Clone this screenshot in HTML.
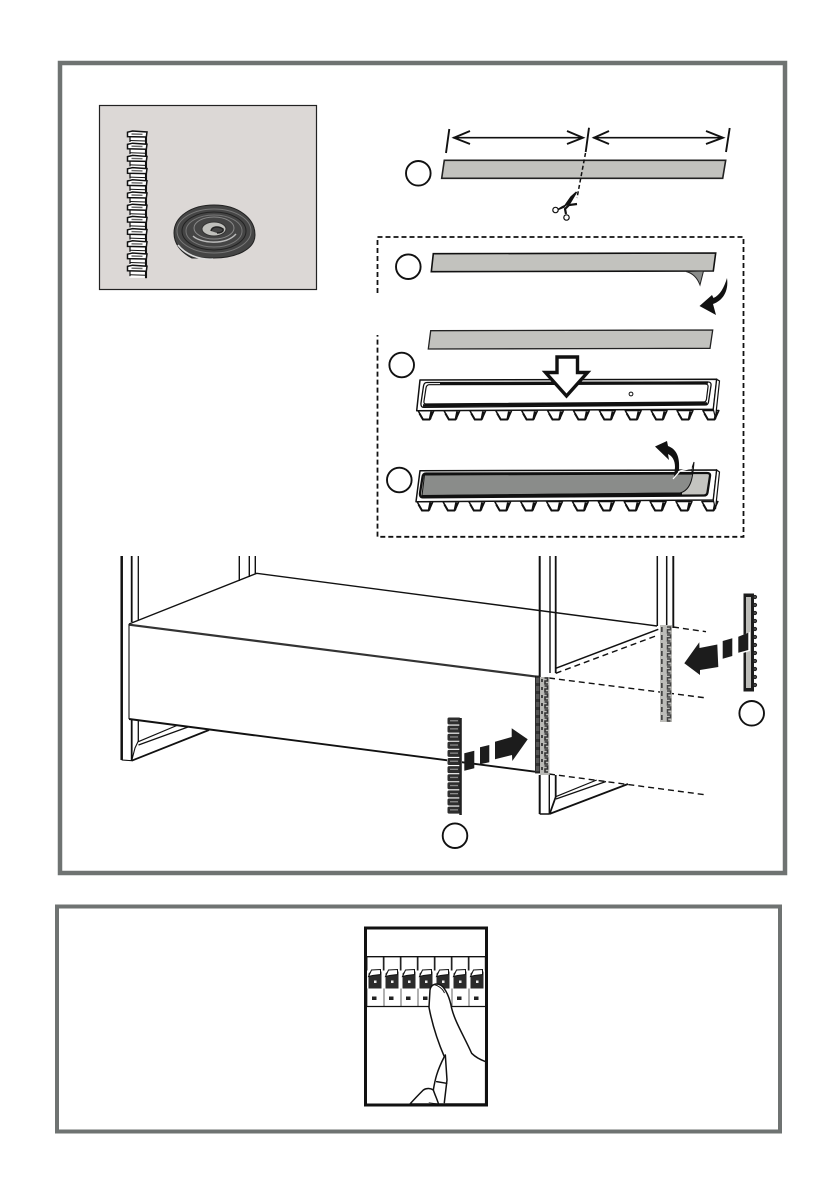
<!DOCTYPE html>
<html><head><meta charset="utf-8"><style>html,body{margin:0;padding:0;background:#fff}svg{display:block}</style></head>
<body>
<svg xmlns="http://www.w3.org/2000/svg" width="840" height="1190" viewBox="0 0 840 1190">
<defs>
<g id="tooth"><path d="M0 0 L5 9 L12 9 L16 0 Z" fill="#fff" stroke="#111" stroke-width="1.5" stroke-linejoin="round"/><path d="M12 8.5 L13.5 1" stroke="#111" stroke-width="2.4"/><path d="M12 9 L5 9 L1.5 3" fill="none" stroke="#111" stroke-width="2"/></g>
<g id="teeth"><use href="#tooth"/><use href="#tooth" x="25.9"/><use href="#tooth" x="51.8"/><use href="#tooth" x="77.7"/><use href="#tooth" x="103.6"/><use href="#tooth" x="129.5"/><use href="#tooth" x="155.4"/><use href="#tooth" x="181.3"/><use href="#tooth" x="207.2"/><use href="#tooth" x="233.1"/><use href="#tooth" x="259"/><use href="#tooth" x="284.9"/></g>
<g id="seg"><path d="M2 5 H18.5 V12.5 H2 Z" fill="#fff"/><path d="M18.5 1 V13" stroke="#111" stroke-width="2.1"/><path d="M2.5 5 V11" stroke="#111" stroke-width="1.2"/><path d="M2.5 9.5 L18 10" stroke="#111" stroke-width="1"/><path d="M0 1.2 L5 0 L19.5 1 L18.8 6 L0 5.6 Z" fill="#fff" stroke="#111" stroke-width="1.5"/><path d="M4 3 L15 3.3" stroke="#666" stroke-width="1.4"/></g>
<g id="dk"><rect x="0" y="0" width="13" height="7" rx="1.5" fill="#2e2e2e"/><rect x="2.5" y="2.6" width="8" height="1.3" fill="#8a8a8a"/></g>
<g id="gy"><rect x="1" y="0" width="1.7" height="5" fill="#444"/><path d="M7 0 h3.5 v2.8 h-3 v3.2 h3" fill="none" stroke="#444" stroke-width="1.5"/></g>
<g id="gz"><rect x="-4" y="0" width="3.5" height="5" fill="#555"/><rect x="1" y="1" width="2" height="3" fill="#444"/><path d="M4.5 0 h3 v3 h-2.5 v3 h3" fill="none" stroke="#333" stroke-width="1.6"/></g>
<g id="sw"><rect x="0" y="0" width="17" height="50" fill="#fff"/><path d="M.5 0 V14 M16.8 0 V14" stroke="#222" stroke-width="1"/><path d="M2 17 L4 15 L15 15 L15 32 L2 32 Z" fill="#2b2b2b"/><path d="M2 20 L5 13.5 L14 13 L14 18 L6 19 Z" fill="#fff" stroke="#111" stroke-width="1"/><rect x="7.5" y="24" width="2.5" height="2.5" fill="#eee"/><rect x="5.5" y="40" width="4.5" height="3.5" fill="#222"/><path d="M.5 32 V50" stroke="#222" stroke-width=".7"/></g>
</defs>

<rect x="60" y="63" width="725" height="810" fill="none" stroke="#6f7372" stroke-width="4.5"/>
<rect x="57" y="906.5" width="723" height="225" fill="none" stroke="#6f7372" stroke-width="4"/>

<!-- parts box -->
<rect x="99.5" y="105.5" width="217" height="184" fill="#dcd8d6" stroke="#222" stroke-width="1.2"/>
<g>
<use href="#seg" x="127.5" y="131"/><use href="#seg" x="127.5" y="143.2"/><use href="#seg" x="127.5" y="155.4"/><use href="#seg" x="127.5" y="167.6"/><use href="#seg" x="127.5" y="179.8"/><use href="#seg" x="127.5" y="192"/><use href="#seg" x="127.5" y="204.2"/><use href="#seg" x="127.5" y="216.4"/><use href="#seg" x="127.5" y="228.6"/><use href="#seg" x="127.5" y="240.8"/><use href="#seg" x="127.5" y="253"/><use href="#seg" x="127.5" y="265.2"/>
</g>
<g>
<path d="M174 233 C174 216 192 205 214 205 C238 205 255 218 255 235 C255 250 235 258 214 258 L192 258 C180 252 174 243 174 233Z" fill="#454545" stroke="#222"/>
<path d="M178 245 C186 255 200 260 213 259" fill="none" stroke="#ddd" stroke-width="1.6"/>
<ellipse cx="214" cy="231" rx="37" ry="22" fill="none" stroke="#777" stroke-width="1"/>
<ellipse cx="214" cy="231" rx="32" ry="19" fill="none" stroke="#222" stroke-width="1"/>
<ellipse cx="214" cy="231" rx="28" ry="16" fill="none" stroke="#777" stroke-width="1"/>
<path d="M193 236 C200 243 225 246 236 234" fill="none" stroke="#bbb" stroke-width="1.4"/>
<ellipse cx="214" cy="228" rx="20" ry="11" fill="none" stroke="#888" stroke-width="1"/>
<ellipse cx="214" cy="229" rx="12" ry="7" fill="#c0c0bc" stroke="#333"/>
<path d="M211 231 C212 226 219 226 223 229 C224 232 220 233 217 233" fill="#444" stroke="#222" stroke-width="1.5"/>
</g>

<!-- step 1 -->
<g stroke="#111" fill="none" stroke-width="1.9">
<path d="M449.3 129 L446 153 M589 127.7 L585.7 152 M729.7 128 L726 152"/>
<path d="M453 137.7 H583 M593 137.7 H723" stroke-width="1.7"/>
<path d="M470 131 L454 137.7 L470 144 M567 131 L583 137.7 L567 144 M609 131 L594 137.7 L609 144 M706 131 L723 137.7 L706 144"/>
</g>
<path d="M444.3 160.3 L725.7 160.3 L722.7 178.3 L441.7 178.3 Z" fill="#c2c2be" stroke="#222" stroke-width="1.6"/>
<path d="M585.5 153 L577 198" stroke="#111" stroke-width="1.5" stroke-dasharray="4 2.5" fill="none"/>
<circle cx="418.3" cy="173.3" r="12.3" fill="#fff" stroke="#111" stroke-width="1.9"/>
<g stroke="#111" fill="none">
<path d="M576.5 192 L570 203 L562 207 L558 209.5 L564 207 L571 197 Z" fill="#111" stroke-width="1.5"/>
<path d="M577 204 L569 205 L565 209 L566 214" stroke-width="2.2"/>
<circle cx="555.5" cy="210" r="2.7" fill="#fff" stroke-width="1.2"/>
<circle cx="566.5" cy="217.5" r="2.7" fill="#fff" stroke-width="1.2"/>
</g>

<!-- dashed box -->
<path d="M377.5 293 V237 H743.5 V536.8 H377.5 V335" fill="none" stroke="#111" stroke-width="1.8" stroke-dasharray="5 3"/>

<!-- step 2 -->
<path d="M433.3 253.7 L715.7 253 L713.3 271 L431.3 271.7 Z" fill="#c2c2be" stroke="#111" stroke-width="1.6"/>
<path d="M686 271.5 L703.5 271 L700 285 C697 277 692 273 686 271.5 Z" fill="#8b8d8b" stroke="#222" stroke-width="1"/>
<circle cx="408.3" cy="266.7" r="12.3" fill="#fff" stroke="#111" stroke-width="1.9"/>
<path d="M727 278 C729 292 722 301 713 304 L716 315 L699.5 306 L712 295 L713.5 298 C720 295 724 288 727 278 Z" fill="#111"/>

<!-- step 3 -->
<path d="M430.7 330.7 L712.7 330 L710 348.3 L428.3 349 Z" fill="#c2c2be" stroke="#222" stroke-width="1.3"/>
<circle cx="401.7" cy="365" r="12.3" fill="#fff" stroke="#111" stroke-width="1.9"/>
<use href="#teeth" x="418" y="410.5"/>
<path d="M420 380 L716.7 379.3 L713.3 409.3 L416.7 410.7 Z" fill="#fff" stroke="#111" stroke-width="1.5" stroke-linejoin="round"/>
<path d="M716.7 379.3 L719.5 381 L715.5 418 L713.3 409.3 Z" fill="#fff" stroke="#111" stroke-width="1.2"/>
<path d="M427 382.5 Q424 382.5 423.5 386 L421 403 Q420.5 407.5 424 407.3 L705 405 Q708 405 708.5 402 L711 385.5 Q711.5 382 708 382 Z" fill="#fff" stroke="#111" stroke-width="1.3"/>
<path d="M429 384.7 Q426.5 385 426 388 L424 401 Q423.5 404 426 404 L704 402 Q706 402 706.5 399 L708 387 Q708.5 384 705 384 Z" fill="#fff" stroke="#111" stroke-width="1.2"/>
<path d="M423 405.5 L707 403.5 M440 383.4 L708 382.6" stroke="#111" stroke-width="2.4" fill="none"/>
<circle cx="631" cy="394" r="1.9" fill="#fff" stroke="#111"/>
<path d="M557 357 H577.5 V372.5 H587.5 L566.5 396 L545.5 372.5 H557 Z" fill="#fff" stroke="#111" stroke-width="3.4"/>

<!-- step 4 -->
<circle cx="399.3" cy="480" r="12.3" fill="#fff" stroke="#111" stroke-width="1.9"/>
<use href="#teeth" x="417" y="501.5"/>
<path d="M420 470.7 L716.7 470 L713.3 500 L416 501.7 Z" fill="#fff" stroke="#111" stroke-width="1.5" stroke-linejoin="round"/>
<path d="M716.7 470 L719.5 472 L715.5 509 L713.3 500 Z" fill="#fff" stroke="#111" stroke-width="1.2"/>
<path d="M426 473.5 Q423 473.5 422.5 477 L420 493 Q419.5 497.5 423 497.3 L704 495.5 Q707 495.5 707.5 492.5 L710 476 Q710.5 473 707 473 Z" fill="#c4c4c0" stroke="#111" stroke-width="2.3"/>
<path d="M424.5 475 L692 474 L692 468 L694 462 C693 475 692 490 680 493 L422 495.5 Z" fill="#8a8c8a" stroke="#111" stroke-width="1"/>
<path d="M421.5 496.5 L682 493.8" stroke="#111" stroke-width="2.6"/>
<path d="M655 446.5 L667 441 L668 446 C676 449 680 456 679 470 L674 478 L675 467 C675 460 672 456 668 454 L669 460 Z" fill="#111"/>
<path d="M673 479 L680 471 L692 468" fill="none" stroke="#fff" stroke-width="1.3"/>

<!-- shelf drawing -->
<g fill="none" stroke="#111">
<path d="M121.7 556 V760" stroke-width="2.5"/>
<path d="M131.7 556 V622 M131.7 720 V760.7" stroke-width="1.8"/>
<path d="M138.3 556 V620 M138.3 720 V742" stroke-width="1.3"/>
<path d="M121.7 760 L131.7 760.7 L135 748 L138.3 741" stroke-width="1.1"/>
<path d="M239.3 556 V581 M249.3 556 V577 M255.3 556 V574" stroke-width="1.4"/>
<path d="M131.7 760.7 L209 730" stroke-width="1.8"/>
<path d="M138.3 741.7 L178 725 M138.5 745 L188 727" stroke-width="1.2"/>
<path d="M129 624 L256.7 573.3 L657 626" stroke-width="1.4"/>
<path d="M129 624.7 L537 676.7" stroke-width="2.2" stroke="#333"/>
<path d="M129 624 V719" stroke-width="1.1"/>
<path d="M129 719 L535 771.7" stroke-width="1.9"/>
<path d="M539.7 556 V677 M539.7 775 V814" stroke-width="2"/>
<path d="M550 556 V673 M549.3 775 V814 M539.7 814 H549.3" stroke-width="1.4"/>
<path d="M555.7 556 V673 M555.7 775 V797 L550 813" stroke-width="1.8"/>
<path d="M657.3 556 V626 M666.7 556 V628" stroke-width="1.5"/>
<path d="M673.3 556 V628" stroke-width="1.9"/>
<path d="M549.3 814 L628 784" stroke-width="1.8"/>
<path d="M555.7 796.7 L596.7 780 M556 799 L606 781.5" stroke-width="1.2"/>
<path d="M555.7 668.3 L658.3 629.3" stroke-width="1.5"/>
</g>
<g fill="none" stroke="#111" stroke-width="1.4" stroke-dasharray="6 4">
<path d="M549 678 L706.7 698"/>
<path d="M549 774 L707 795"/>
<path d="M673 627 L706 631.7"/>
<path d="M555.7 673.3 L658.3 635"/>
</g>

<!-- installed strip centre -->
<rect x="535.5" y="676" width="4.5" height="97" fill="#333" stroke="#111" stroke-width=".8"/>
<rect x="540" y="677" width="9.5" height="98" fill="#b9b9b5"/>
<g transform="translate(540 678)"><use href="#gz"/><use href="#gz" y="8"/><use href="#gz" y="16"/><use href="#gz" y="24"/><use href="#gz" y="32"/><use href="#gz" y="40"/><use href="#gz" y="48"/><use href="#gz" y="56"/><use href="#gz" y="64"/><use href="#gz" y="72"/><use href="#gz" y="80"/><use href="#gz" y="88"/></g>

<!-- installed strip right -->
<rect x="660" y="625" width="12" height="97" fill="#bcbcb8"/>
<g transform="translate(660 627)"><use href="#gy"/><use href="#gy" y="8"/><use href="#gy" y="16"/><use href="#gy" y="24"/><use href="#gy" y="32"/><use href="#gy" y="40"/><use href="#gy" y="48"/><use href="#gy" y="56"/><use href="#gy" y="64"/><use href="#gy" y="72"/><use href="#gy" y="80"/><use href="#gy" y="88"/></g>

<!-- right rail + arrow -->
<rect x="743.5" y="593.5" width="10.5" height="98" fill="#1c1c1c"/>
<rect x="746" y="597" width="5" height="91" fill="#bcbcb8"/>
<g fill="#666" stroke="#222" stroke-width="1.2">
<circle cx="755" cy="597" r="1.5"/><circle cx="755" cy="605" r="1.5"/><circle cx="755" cy="613" r="1.5"/><circle cx="755" cy="621" r="1.5"/><circle cx="755" cy="629" r="1.5"/><circle cx="755" cy="637" r="1.5"/><circle cx="755" cy="645" r="1.5"/><circle cx="755" cy="653" r="1.5"/><circle cx="755" cy="661" r="1.5"/><circle cx="755" cy="669" r="1.5"/><circle cx="755" cy="677" r="1.5"/><circle cx="755" cy="685" r="1.5"/>
</g>
<path d="M736 638 L750 632 V651 L736 655 Z" fill="#fff"/>
<g fill="#1c1c1c">
<path d="M684.3 663.3 L699.3 642.3 L699.5 648 L717.3 644.5 L718.3 667 L700 670 V675 Z"/>
<path d="M722.7 641 L732.3 638.3 V656 L722.7 658.7 Z"/>
<path d="M738.3 636.7 L748.3 632.7 V650 L738.3 652.7 Z"/>
</g>
<circle cx="751.7" cy="713.3" r="12.3" fill="#fff" stroke="#111" stroke-width="1.9"/>

<!-- left rail + arrow -->
<rect x="447" y="717" width="15" height="98" fill="#fff"/>
<g transform="translate(447.5 717.5)"><use href="#dk"/><use href="#dk" y="8.1"/><use href="#dk" y="16.2"/><use href="#dk" y="24.3"/><use href="#dk" y="32.4"/><use href="#dk" y="40.5"/><use href="#dk" y="48.6"/><use href="#dk" y="56.7"/><use href="#dk" y="64.8"/><use href="#dk" y="72.9"/><use href="#dk" y="81"/><use href="#dk" y="89.1"/></g>
<rect x="459.3" y="718" width="2.5" height="97" fill="#222"/>
<g fill="#1c1c1c">
<path d="M527.7 739.3 L511.7 728.3 L511.7 737 L495 741.7 L495 759.3 L512 755 L512.3 761 Z"/>
<path d="M480 747.3 L489.3 745 V762.3 L480 764.3 Z"/>
<path d="M464.3 753.3 L474.3 750.7 V768.3 L464.3 770.7 Z"/>
</g>
<circle cx="455" cy="835.7" r="12.3" fill="#fff" stroke="#111" stroke-width="1.9"/>

<!-- breaker picture -->
<rect x="365.5" y="928" width="121" height="177" fill="#fff"/>
<g transform="translate(366.5 956.5)"><use href="#sw"/><use href="#sw" x="17"/><use href="#sw" x="34"/><use href="#sw" x="51"/><use href="#sw" x="68"/><use href="#sw" x="85"/><use href="#sw" x="102"/></g>
<path d="M366 956.7 H486 M366 1006.5 H486" stroke="#111" stroke-width="1.3" fill="none"/>
<g transform="translate(355 920) scale(.3333)" fill="none" stroke="#111" stroke-width="4.5" stroke-linejoin="round" stroke-linecap="round">
<path d="M222 262 L225 210 C228 192 245 188 258 196 C272 206 284 232 290 265 C300 305 325 345 350 400 C362 412 378 420 392 425 L392 552 L165 552 C180 535 195 520 205 510 C215 503 228 505 235 510 C240 480 245 455 268 410 C255 380 235 330 222 262 Z" fill="#fff"/>
<path d="M271 405 L276 480 L268 548"/>
<path d="M245 485 L275 490"/>
<path d="M235 510 C240 525 245 535 250 550"/>
<path d="M222 548 L250 552" stroke-width="2"/>
<path d="M238 194 C248 196 262 205 268 218" stroke-width="3"/>
</g>
<rect x="365.5" y="928" width="121" height="177" fill="none" stroke="#111" stroke-width="3"/>
</svg>
</body></html>
